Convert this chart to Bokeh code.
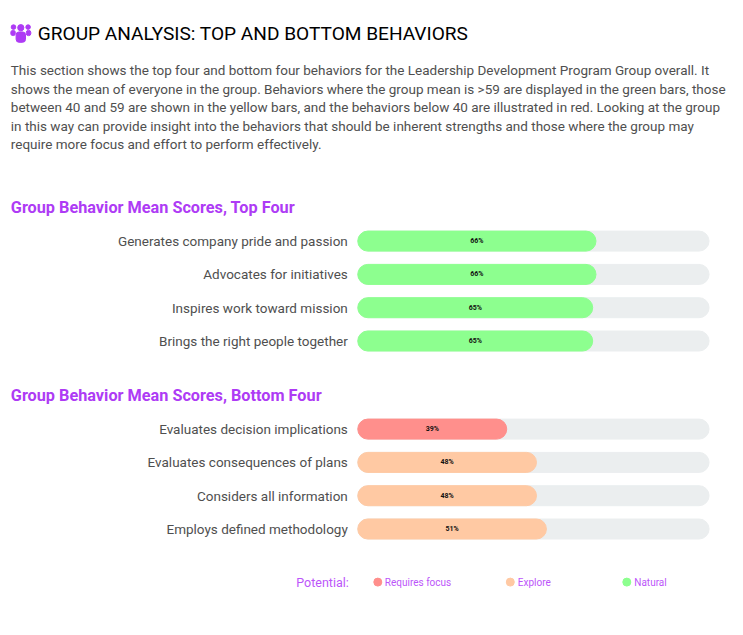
from bokeh.plotting import figure
from bokeh.models import Range1d
from bokeh.embed import file_html
from bokeh.resources import INLINE
from bokeh.core.properties import value

title = "GROUP ANALYSIS: TOP AND BOTTOM BEHAVIORS"
paragraph = [
    "This section shows the top four and bottom four behaviors for the Leadership Development Program Group overall. It",
    "shows the mean of everyone in the group. Behaviors where the group mean is >59 are displayed in the green bars, those",
    "between 40 and 59 are shown in the yellow bars, and the behaviors below 40 are illustrated in red. Looking at the group",
    "in this way can provide insight into the behaviors that should be inherent strengths and those where the group may",
    "require more focus and effort to perform effectively.",
]
top_heading = "Group Behavior Mean Scores, Top Four"
bottom_heading = "Group Behavior Mean Scores, Bottom Four"
top_labels = ["Generates company pride and passion", "Advocates for initiatives",
              "Inspires work toward mission", "Brings the right people together"]
top_values = [66, 66, 65, 65]
bottom_labels = ["Evaluates decision implications", "Evaluates consequences of plans",
                 "Considers all information", "Employs defined methodology"]
bottom_values = [39, 48, 48, 51]
legend_title = "Potential:"
legend_items = ["Requires focus", "Explore", "Natural"]

RED, ORANGE, GREEN, TRACK = "#FF8F8C", "#FFC9A3", "#8DFF8F", "#EBEEEF"
PURPLE = "#AE3BF5"
LEGEND_PURPLE = "#BC55FA"
legend_colors = [RED, ORANGE, GREEN]
FONT = value("Roboto")

W, H = 743, 625
def color_for(v):
    return RED if v < 40 else (ORANGE if v < 60 else GREEN)

# x: score scale; "px" range = page pixels, nudged to sit on the reference's pixel grid
PX0, PX100 = 378.0, 708.6
u = (PX100 - PX0) / 100
NUDGE = 0.7
p = figure(width=W, height=H, output_backend="svg", toolbar_location=None,
           x_range=Range1d((NUDGE - PX0) / u, (W + NUDGE - PX0) / u),
           y_range=Range1d(H + 0.4, 0.4), min_border=0, outline_line_color=None,
           border_fill_color="white", background_fill_color="white")
p.axis.visible = False
p.grid.visible = False
p.extra_x_ranges = {"px": Range1d(NUDGE, W + NUDGE)}
BAR_START = -6.05
TRACK_END = 100.2

def txt(x, y, s, size, color, align="left", style="normal"):
    p.text(x=[x], y=[y], text=[s], x_range_name="px", text_font=FONT,
           text_font_size=size, text_color=color, text_align=align,
           text_baseline="middle", text_font_style=style)

# icon
ic = dict(x_range_name="px", color=PURPLE)
p.ellipse(x=[13.7, 28.3], y=[27.0, 27.0], width=4.6, height=4.6, **ic)
p.ellipse(x=[21], y=[27.6], width=6.2, height=6.2, **ic)
p.quad(left=[11, 26.5], right=[15.5, 31], top=[30.3, 30.3], bottom=[35.5, 35.5],
       border_radius=2, **ic)
p.quad(left=[16.3], right=[25.7], top=[31.8], bottom=[42.2], border_radius=3, **ic)

txt(38, 33, title, "19.1px", "#000000")
for i, line in enumerate(paragraph):
    txt(11, 70 + i * 18.5, line, "13.5px", "#4F4F4F")

def section(heading, head_y, labels, vals, y0):
    txt(11, head_y, heading, "16.25px", PURPLE, style="bold")
    ys = [y0 + i * 33.3 for i in range(len(vals))]
    p.hbar(y=ys, left=BAR_START, right=TRACK_END, height=20, color=TRACK, border_radius=10)
    p.hbar(y=ys, left=BAR_START, right=vals, height=20,
           color=[color_for(v) for v in vals], border_radius=10)
    for lab, v, y in zip(labels, vals, ys):
        txt(348, y, lab, "13.5px", "#4F4F4F", align="right")
        p.text(x=[(BAR_START + v) / 2], y=[y], text=[f"{v}%"], text_font=FONT,
               text_font_size="7px", text_font_style="bold", text_color="#111111",
               text_align="center", text_baseline="middle")

section(top_heading, 207.5, top_labels, top_values, 241)
section(bottom_heading, 395.5, bottom_labels, bottom_values, 429)

txt(349, 582.5, legend_title, "12.5px", LEGEND_PURPLE, align="right")
for cx, tx, lab, c in zip([378, 510.5, 627], [385, 518, 634.5], legend_items, legend_colors):
    p.ellipse(x=[cx], y=[582], width=8, height=8, color=c, x_range_name="px")
    txt(tx, 582, lab, "10px", LEGEND_PURPLE)

open("out.html", "w").write(file_html(p, INLINE))
